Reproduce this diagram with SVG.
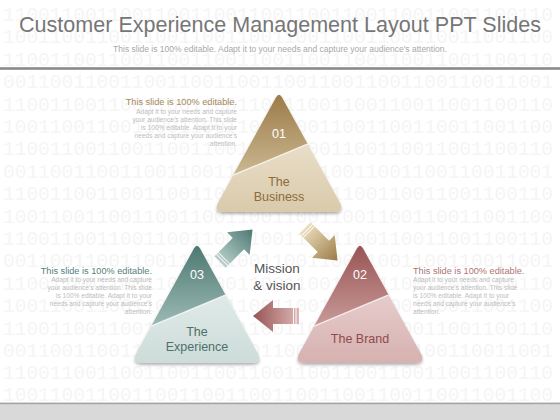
<svg xmlns="http://www.w3.org/2000/svg" width="560" height="420" viewBox="0 0 560 420">
<style>
.bg{font-family:"Liberation Mono",monospace;font-size:19.5px;fill:#f5f5f5}
.title{font-family:"Liberation Sans",Arial,sans-serif;font-size:22px;fill:#767676;text-anchor:middle}
.sub{font-family:"Liberation Sans",Arial,sans-serif;font-size:8.5px;fill:#a8a8a8;text-anchor:middle}
.num{font-family:"Liberation Sans",Arial,sans-serif;font-size:12.5px;fill:#ffffff;text-anchor:middle}
.lbl{font-family:"Liberation Sans",Arial,sans-serif;font-size:12.5px;text-anchor:middle}
.head{font-family:"Liberation Sans",Arial,sans-serif;font-size:9.2px}
.small{font-family:"Liberation Sans",Arial,sans-serif;font-size:6.6px;fill:#bdbdbd}
.mv{font-family:"Liberation Sans",Arial,sans-serif;font-size:13.5px;fill:#555555;text-anchor:middle}
.divl{stroke:#ffffff;stroke-opacity:0.75;stroke-width:1.4}
.stripe{stroke:#ffffff;stroke-width:1;stroke-opacity:0.9}
</style>
<defs>
<path id="triShape" d="M -2.9 5.26 Q 0 0 2.9 5.26 L 60.7 110.36 Q 66 120 55 120 L -55 120 Q -66 120 -60.7 110.36 Z"/>
<clipPath id="triClip"><path d="M -2.9 5.26 Q 0 0 2.9 5.26 L 60.7 110.36 Q 66 120 55 120 L -55 120 Q -66 120 -60.7 110.36 Z"/></clipPath>
<filter id="shadow" x="-20%" y="-20%" width="140%" height="140%">
<feDropShadow dx="0" dy="2" stdDeviation="1.6" flood-color="#000000" flood-opacity="0.3"/>
</filter>
<linearGradient id="bizTop" gradientUnits="userSpaceOnUse" x1="0" y1="0" x2="0" y2="95"><stop offset="0" stop-color="#9a7a46"/><stop offset="1" stop-color="#d2c09c"/></linearGradient>
<linearGradient id="bizLow" gradientUnits="userSpaceOnUse" x1="0" y1="40" x2="0" y2="120"><stop offset="0" stop-color="#ebe1cd"/><stop offset="1" stop-color="#dacaab"/></linearGradient>
<linearGradient id="brdTop" gradientUnits="userSpaceOnUse" x1="0" y1="0" x2="0" y2="95"><stop offset="0" stop-color="#975252"/><stop offset="1" stop-color="#cfa4a3"/></linearGradient>
<linearGradient id="brdLow" gradientUnits="userSpaceOnUse" x1="0" y1="40" x2="0" y2="120"><stop offset="0" stop-color="#e9d1d0"/><stop offset="1" stop-color="#d6b1b0"/></linearGradient>
<linearGradient id="expTop" gradientUnits="userSpaceOnUse" x1="0" y1="0" x2="0" y2="95"><stop offset="0" stop-color="#4a766f"/><stop offset="1" stop-color="#a9c4bf"/></linearGradient>
<linearGradient id="expLow" gradientUnits="userSpaceOnUse" x1="0" y1="40" x2="0" y2="120"><stop offset="0" stop-color="#e3edeb"/><stop offset="1" stop-color="#cddcd9"/></linearGradient>
<linearGradient id="arTeal" gradientUnits="userSpaceOnUse" x1="0" y1="0" x2="46" y2="0"><stop offset="0" stop-color="#b9d0cb"/><stop offset="1" stop-color="#4c7971"/></linearGradient>
<linearGradient id="arGold" gradientUnits="userSpaceOnUse" x1="0" y1="0" x2="46" y2="0"><stop offset="0" stop-color="#ebdebe"/><stop offset="1" stop-color="#9b7b46"/></linearGradient>
<linearGradient id="arRed" gradientUnits="userSpaceOnUse" x1="0" y1="0" x2="46" y2="0"><stop offset="0" stop-color="#dcb5b5"/><stop offset="1" stop-color="#985353"/></linearGradient>
<path id="arrowShape" d="M 0 -8 L 26 -8 L 26 -16 L 46 0 L 26 16 L 26 8 L 0 8 Z"/>
</defs>

<rect x="0" y="0" width="560" height="420" fill="#ffffff"/>
<g id="background">
<text class="bg" x="3" y="21">11001100110011001100110011001100110011001100110</text>
<text class="bg" x="3" y="43.4">10011001100110011001100110011001100110011001100</text>
<text class="bg" x="3" y="65.8">11001100110011001100110011001100110011001100110</text>
<text class="bg" x="3" y="88.2">00110011001100110011001100110011001100110011001</text>
<text class="bg" x="3" y="110.6">11001100110011001100110011001100110011001100110</text>
<text class="bg" x="3" y="133">10011001100110011001100110011001100110011001100</text>
<text class="bg" x="3" y="155.4">11001100110011001100110011001100110011001100110</text>
<text class="bg" x="3" y="177.8">00110011001100110011001100110011001100110011001</text>
<text class="bg" x="3" y="200.2">11001100110011001100110011001100110011001100110</text>
<text class="bg" x="3" y="222.6">10011001100110011001100110011001100110011001100</text>
<text class="bg" x="3" y="245">11001100110011001100110011001100110011001100110</text>
<text class="bg" x="3" y="267.4">00110011001100110011001100110011001100110011001</text>
<text class="bg" x="3" y="289.8">11001100110011001100110011001100110011001100110</text>
<text class="bg" x="3" y="312.2">10011001100110011001100110011001100110011001100</text>
<text class="bg" x="3" y="334.6">11001100110011001100110011001100110011001100110</text>
<text class="bg" x="3" y="357">00110011001100110011001100110011001100110011001</text>
<text class="bg" x="3" y="379.4">11001100110011001100110011001100110011001100110</text>
<text class="bg" x="3" y="401.4">10011001100110011001100110011001100110011001100</text>
</g>

<g id="header">
<text class="title" x="280" y="32" textLength="522" lengthAdjust="spacingAndGlyphs">Customer Experience Management Layout PPT Slides</text>
<text class="sub" x="280" y="52">This slide is 100% editable. Adapt it to your needs and capture your audience's attention.</text>
<rect x="0" y="67.2" width="560" height="2.6" fill="#8a8a8a"/>
</g>

<g id="footer">
<rect x="0" y="404" width="560" height="16" fill="#d9d9d9"/>
<rect x="0" y="402.6" width="560" height="1.6" fill="#a3a3a3"/>
</g>

<g id="connectors">
<g id="arrow-teal" transform="translate(220,262) rotate(-45)">
<use href="#arrowShape" fill="url(#arTeal)"/>
<line class="stripe" x1="3" y1="-8" x2="3" y2="8"/>
<line class="stripe" x1="5.5" y1="-8" x2="5.5" y2="8"/>
</g>
<g id="arrow-gold" transform="translate(305,228) rotate(45)">
<use href="#arrowShape" fill="url(#arGold)"/>
<line class="stripe" x1="3" y1="-8" x2="3" y2="8"/>
<line class="stripe" x1="5.5" y1="-8" x2="5.5" y2="8"/>
</g>
<g id="arrow-red" transform="translate(299,316) rotate(180)">
<use href="#arrowShape" fill="url(#arRed)"/>
<line class="stripe" x1="3" y1="-8" x2="3" y2="8"/>
<line class="stripe" x1="5.5" y1="-8" x2="5.5" y2="8"/>
</g>
</g>

<g id="node-business" transform="translate(279,92)">
<use href="#triShape" fill="url(#bizLow)" filter="url(#shadow)"/>
<g clip-path="url(#triClip)">
<polygon points="-80,-5 80,-5 80,30.5 -80,97.4" fill="url(#bizTop)"/>
<line class="divl" x1="-80" y1="97.4" x2="80" y2="30.5"/>
</g>
<text class="num" x="0" y="46">01</text>
<text class="lbl" x="0" y="93.5" fill="#8b6c3b">The</text>
<text class="lbl" x="0" y="108.5" fill="#8b6c3b">Business</text>
</g>

<g id="node-brand" transform="translate(360,243)">
<use href="#triShape" fill="url(#brdLow)" filter="url(#shadow)"/>
<g clip-path="url(#triClip)">
<polygon points="-80,-5 80,-5 80,30.5 -80,97.4" fill="url(#brdTop)"/>
<line class="divl" x1="-80" y1="97.4" x2="80" y2="30.5"/>
</g>
<text class="num" x="0" y="35.5">02</text>
<text class="lbl" x="0" y="99.5" fill="#8e4b4b">The Brand</text>
</g>

<g id="node-experience" transform="translate(197,243)">
<use href="#triShape" fill="url(#expLow)" filter="url(#shadow)"/>
<g clip-path="url(#triClip)">
<polygon points="-80,-5 80,-5 80,30.5 -80,97.4" fill="url(#expTop)"/>
<line class="divl" x1="-80" y1="97.4" x2="80" y2="30.5"/>
</g>
<text class="num" x="0" y="35.5">03</text>
<text class="lbl" x="0" y="92.5" fill="#4f6f69">The</text>
<text class="lbl" x="0" y="107.5" fill="#4f6f69">Experience</text>
</g>

<g id="node-center">
<text class="mv" x="277" y="273">Mission</text>
<text class="mv" x="277" y="290">&amp; vision</text>
</g>

<g id="text-business" text-anchor="end">
<text class="head" x="237" y="105" fill="#a6895a">This slide is 100% editable.</text>
<text class="small" x="237" y="113.5">Adapt it to your needs and capture</text>
<text class="small" x="237" y="121.5">your audience's attention. This slide</text>
<text class="small" x="237" y="129.5">is 100% editable. Adapt it to your</text>
<text class="small" x="237" y="137.5">needs and capture your audience's</text>
<text class="small" x="237" y="145.5">attention.</text>
</g>

<g id="text-experience" text-anchor="end">
<text class="head" x="152" y="273.5" fill="#53807a">This slide is 100% editable.</text>
<text class="small" x="152" y="282">Adapt it to your needs and capture</text>
<text class="small" x="152" y="290">your audience's attention. This slide</text>
<text class="small" x="152" y="298">is 100% editable. Adapt it to your</text>
<text class="small" x="152" y="306">needs and capture your audience's</text>
<text class="small" x="152" y="314">attention.</text>
</g>

<g id="text-brand" text-anchor="start">
<text class="head" x="413" y="273.5" fill="#ad7474">This slide is 100% editable.</text>
<text class="small" x="413" y="282">Adapt it to your needs and capture</text>
<text class="small" x="413" y="290">your audience's attention. This slide</text>
<text class="small" x="413" y="298">is 100% editable. Adapt it to your</text>
<text class="small" x="413" y="306">needs and capture your audience's</text>
<text class="small" x="413" y="314">attention.</text>
</g>
</svg>
